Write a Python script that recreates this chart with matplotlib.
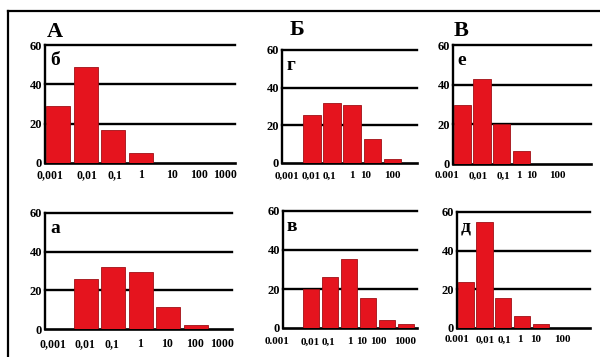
import matplotlib as mpl
mpl.use('Agg')
import matplotlib.pyplot as plt
from matplotlib.lines import Line2D

plt.rcParams['font.family'] = ['Liberation Serif', 'DejaVu Serif']
plt.rcParams['font.weight'] = 'bold'

W, H = 600, 357
RED = '#e5141e'
EDGE = '#a01016'

# ---------------- data (bin index = decade, 0 -> 0.001..0.01) ----------------
b_bins = [0, 1, 2, 3]
b_vals = [29, 49, 17, 5]
a_bins = [1, 2, 3, 4, 5]
a_vals = [26, 32, 29.5, 11.5, 2]
g_bins = [1, 2, 3, 4, 5]
g_vals = [25.5, 32, 31, 13, 2]
v_bins = [1, 2, 3, 4, 5, 6]
v_vals = [20, 26, 35.5, 15.5, 4, 2]
e_bins = [0, 1, 2, 3]
e_vals = [30, 43, 20, 6.5]
d_bins = [0, 1, 2, 3, 4]
d_vals = [24, 55, 15.5, 6, 2]

labels_A = ['0,001', '0,01', '0,1', '1', '10', '100', '1000']
labels_g = ['0,001', '0,01', '0,1', '1', '10', '100']
labels_v = ['0.001', '0,01', '0,1', '1', '10', '100', '1000']
labels_e = ['0.001', '0,01', '0,1', '1', '10', '100']
yticks = [0, 20, 40, 60]

fig = plt.figure(figsize=(W / 100, H / 100), dpi=100)

# outer frame (top and left only)
fig.add_artist(Line2D([8 / W, 1], [1 - 11 / H, 1 - 11 / H], color='black', lw=1.6))
fig.add_artist(Line2D([8 / W, 8 / W], [0, 1 - 11 / H], color='black', lw=1.6))


def panel(rect, stride, bins, vals, letter, labels, label_px, label_off, fs=8.5):
    l, t, r, b = rect
    ax = fig.add_axes([l / W, 1 - b / H, (r - l) / W, (b - t) / H])
    ax.set_xlim(0, (r - l) / stride)
    ax.set_ylim(0, 60)
    ax.bar([i + 0.04 for i in bins], vals, width=0.87, align='edge',
           color=RED, edgecolor=EDGE, linewidth=0.6, zorder=3)
    for y in (20, 40, 60):
        ax.axhline(y, color='black', lw=1.7, zorder=2, clip_on=False)
    for s in ('top', 'right'):
        ax.spines[s].set_visible(False)
    ax.spines['left'].set_linewidth(1.7)
    ax.spines['bottom'].set_linewidth(1.9)
    ax.set_yticks(yticks)
    ax.set_yticklabels([str(v) for v in yticks], fontsize=9, fontweight='bold')
    ax.tick_params(axis='y', length=0, pad=2)
    ax.set_xticks([])
    ax.text(0.03, 0.94, letter, transform=ax.transAxes, ha='left', va='top',
            fontsize=14, fontweight='bold')
    for lbl, px in zip(labels, label_px):
        ax.annotate(lbl, xy=((px - l) / stride, 0), xycoords=('data', 'axes fraction'),
                    xytext=(0, -label_off), textcoords='offset pixels',
                    ha='center', va='center', fontsize=fs, fontweight='bold',
                    annotation_clip=False)
    return ax


panel((45, 45, 235, 163), 27.5, b_bins, b_vals, 'б', labels_A,
      [50, 87, 115, 141, 172, 199, 225], 12)
panel((45, 213, 232, 329), 27.5, a_bins, a_vals, 'а', labels_A,
      [53, 85, 112, 140, 167, 195, 222], 15)
panel((282, 50, 417, 163), 20.2, g_bins, g_vals, 'г', labels_g,
      [287, 311, 329, 352, 366, 392], 13, 8)
panel((283, 211, 417, 328), 19, v_bins, v_vals, 'в', labels_v,
      [277, 310, 328, 350, 362, 378, 405], 14, 8)
panel((453, 45, 591, 164), 19.7, e_bins, e_vals, 'е', labels_e,
      [447, 478, 503, 519, 532, 557], 12, 8)
panel((457, 212, 590, 328), 18.7, d_bins, d_vals, 'д', labels_e,
      [457, 485, 504, 520, 536, 562], 12, 8)

# group headings
for txt, x, y in [('А', 47, 37), ('Б', 290, 35), ('В', 454, 36)]:
    fig.text(x / W, 1 - y / H, txt, ha='left', va='baseline',
             fontsize=16, fontweight='bold')

fig.savefig('out.png', dpi=100)
